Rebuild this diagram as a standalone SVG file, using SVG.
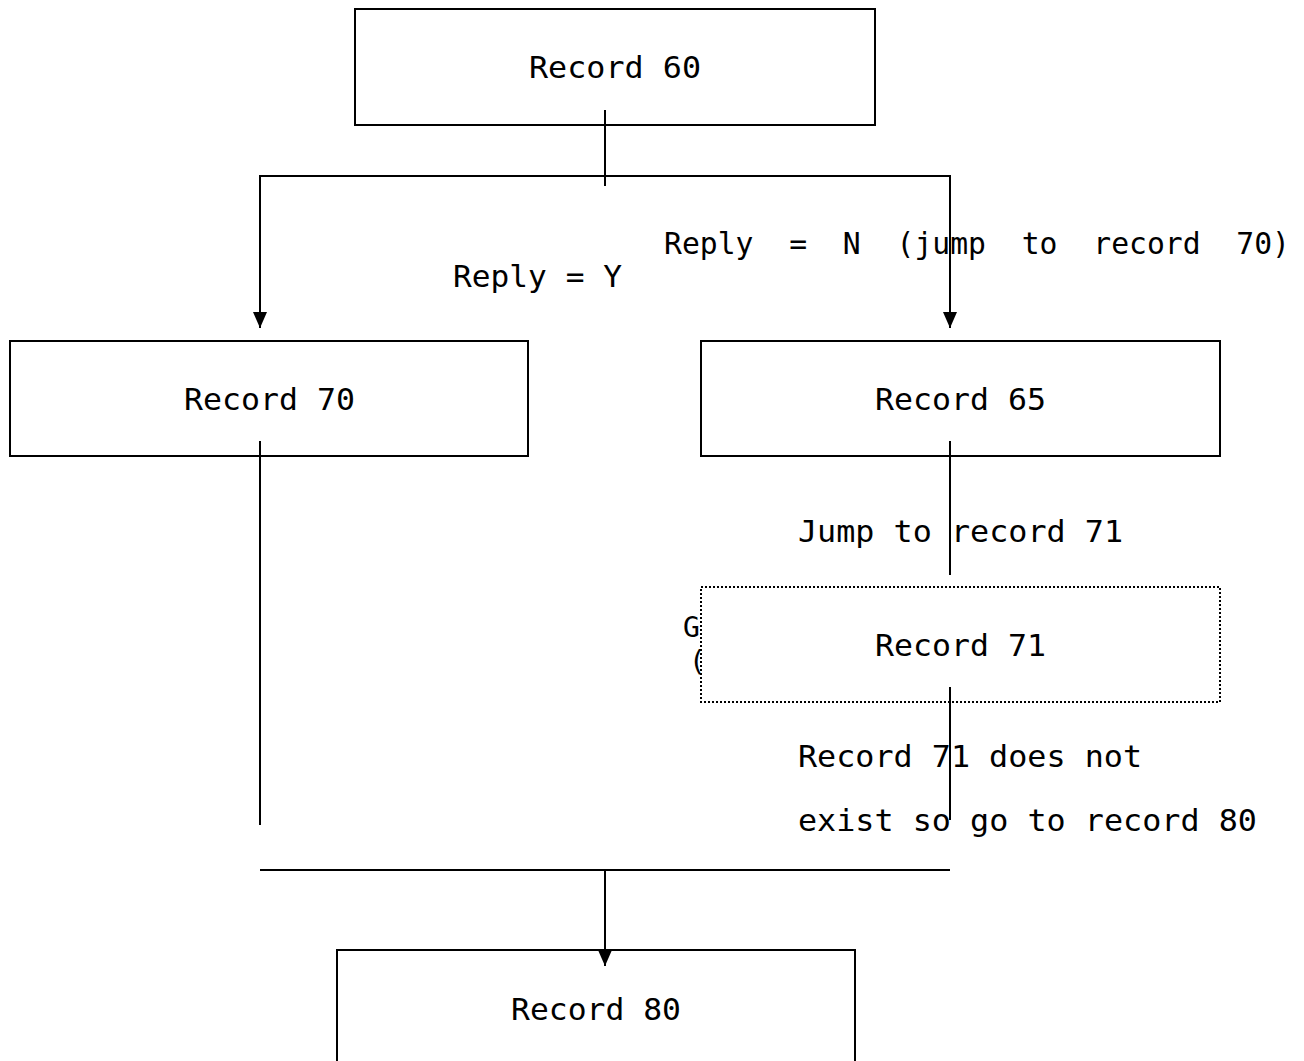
<svg xmlns="http://www.w3.org/2000/svg" width="1304" height="1061" viewBox="0 0 1304 1061">
<style>
  .box { fill: #fff; stroke: #000; stroke-width: 2; }
  .dotted { fill: #fff; stroke: #000; stroke-width: 2; stroke-dasharray: 2 2; }
  .lbl { font-family: "DejaVu Sans Mono", "Liberation Mono", monospace; font-size: 31px; fill: #000; }
  .hid { font-family: "DejaVu Sans Mono", "Liberation Mono", monospace; font-size: 28px; fill: #000; }
  .note { font-family: "DejaVu Sans Mono", "Liberation Mono", monospace; font-size: 30px; fill: #000; white-space: pre; }
  .conn { stroke: #000; stroke-width: 2; fill: none; }
</style>
<defs>
  <marker id="arrowDown" markerUnits="userSpaceOnUse" markerWidth="14" markerHeight="16" refX="7" refY="16" orient="0" viewBox="0 0 14 16">
    <path d="M0,0 L14,0 L7,16 Z" fill="#000"/>
  </marker>
</defs>

<g id="hidden-label">
  <text class="hid" x="683" y="637">G</text>
  <text class="hid" x="689" y="671">(</text>
</g>

<g id="node-record60">
  <rect class="box" x="355" y="9" width="520" height="116"/>
  <text class="lbl" x="529" y="78" textLength="172" lengthAdjust="spacingAndGlyphs">Record 60</text>
</g>
<g id="node-record70">
  <rect class="box" x="10" y="341" width="518" height="115"/>
  <text class="lbl" x="184" y="410" textLength="171" lengthAdjust="spacingAndGlyphs">Record 70</text>
</g>
<g id="node-record65">
  <rect class="box" x="701" y="341" width="519" height="115"/>
  <text class="lbl" x="875" y="410" textLength="171" lengthAdjust="spacingAndGlyphs">Record 65</text>
</g>
<g id="node-record71">
  <rect class="dotted" x="701" y="587" width="519" height="115"/>
  <text class="lbl" x="875" y="656" textLength="171" lengthAdjust="spacingAndGlyphs">Record 71</text>
</g>
<g id="node-record80">
  <rect class="box" x="337" y="950" width="518" height="200"/>
  <text class="lbl" x="511" y="1020" textLength="170" lengthAdjust="spacingAndGlyphs">Record 80</text>
</g>

<g id="labels">
  <text class="lbl" x="453" y="287" textLength="169" lengthAdjust="spacingAndGlyphs">Reply = Y</text>
  <text class="note" x="664" y="254" textLength="626" lengthAdjust="spacingAndGlyphs">Reply  =  N  (jump  to  record  70)</text>
  <text class="lbl" x="798" y="542" textLength="325" lengthAdjust="spacingAndGlyphs">Jump to record 71</text>
  <text class="lbl" x="798" y="767" textLength="344" lengthAdjust="spacingAndGlyphs">Record 71 does not</text>
  <text class="lbl" x="798" y="831" textLength="459" lengthAdjust="spacingAndGlyphs">exist so go to record 80</text>
</g>

<g id="connectors">
  <line class="conn" x1="605" y1="110" x2="605" y2="186"/>
  <line class="conn" x1="259" y1="176" x2="951" y2="176"/>
  <line class="conn" x1="260" y1="176" x2="260" y2="328" marker-end="url(#arrowDown)"/>
  <line class="conn" x1="950" y1="176" x2="950" y2="328" marker-end="url(#arrowDown)"/>
  <line class="conn" x1="260" y1="441" x2="260" y2="825"/>
  <line class="conn" x1="950" y1="441" x2="950" y2="575"/>
  <line class="conn" x1="950" y1="687" x2="950" y2="820"/>
  <line class="conn" x1="260" y1="870" x2="950" y2="870"/>
  <line class="conn" x1="605" y1="870" x2="605" y2="966" marker-end="url(#arrowDown)"/>
</g>
</svg>
